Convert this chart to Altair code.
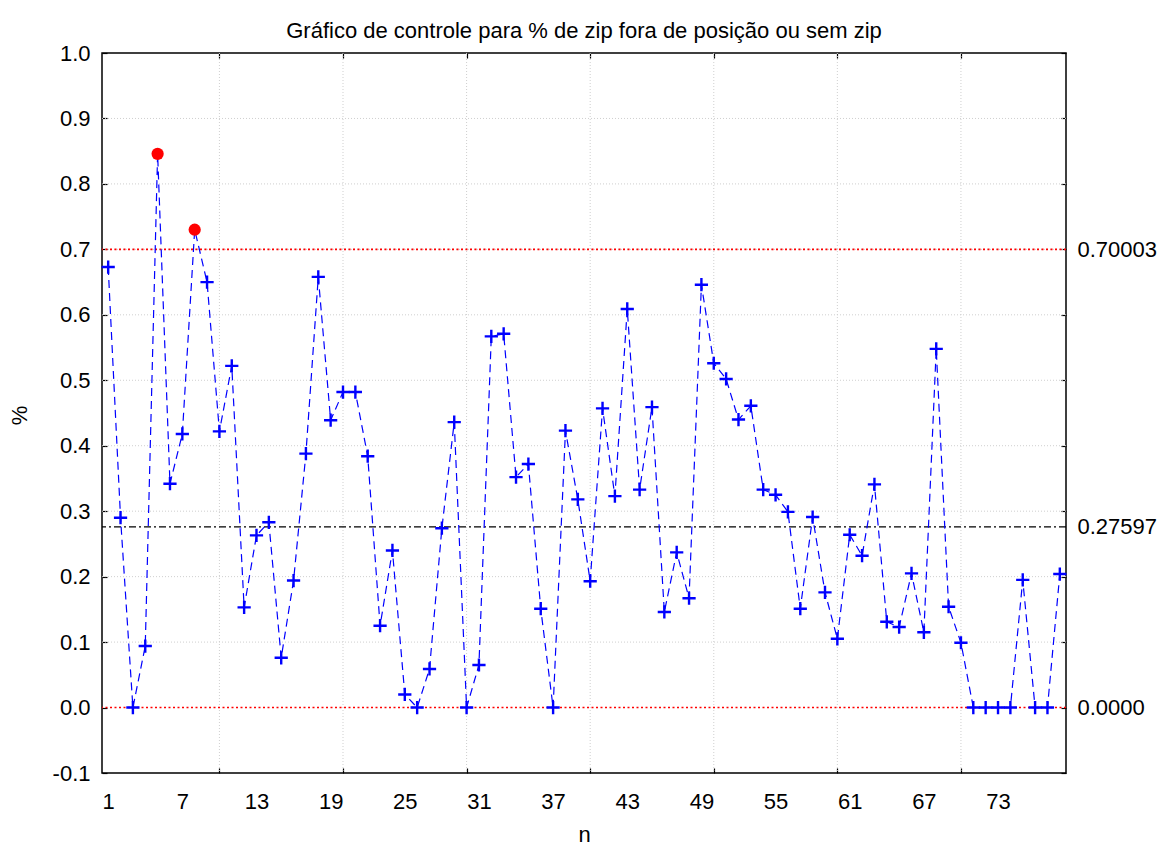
import altair as alt
import pandas as pd

TITLE = "Gráfico de controle para % de zip fora de posição ou sem zip"
X_TITLE = "n"
Y_TITLE = "%"

n_values = list(range(1, 79))
pct_values = [
    0.673, 0.290, 0.000, 0.094, 0.846, 0.342, 0.418, 0.730, 0.650, 0.422,
    0.522, 0.153, 0.263, 0.283, 0.076, 0.194, 0.388, 0.658, 0.439, 0.482,
    0.482, 0.384, 0.125, 0.240, 0.020, 0.000, 0.059, 0.274, 0.436, 0.000,
    0.065, 0.567, 0.571, 0.352, 0.372, 0.151, 0.000, 0.423, 0.318, 0.193,
    0.457, 0.323, 0.609, 0.333, 0.459, 0.146, 0.237, 0.167, 0.646, 0.526,
    0.502, 0.440, 0.461, 0.333, 0.325, 0.299, 0.151, 0.291, 0.176, 0.105,
    0.264, 0.232, 0.341, 0.131, 0.123, 0.205, 0.115, 0.548, 0.154, 0.099,
    0.000, 0.000, 0.000, 0.000, 0.195, 0.000, 0.000, 0.204,
]
x_label_values = [1, 7, 13, 19, 25, 31, 37, 43, 49, 55, 61, 67, 73]
x_grid_values = [10, 20, 30, 40, 50, 60, 70]
y_tick_values = [-0.1, 0.0, 0.1, 0.2, 0.3, 0.4, 0.5, 0.6, 0.7, 0.8, 0.9, 1.0]
y_grid_values = [0.1, 0.2, 0.3, 0.4, 0.5, 0.6, 0.7, 0.8, 0.9]
UCL = 0.70003
CL = 0.27597
LCL = 0.0
limit_values = [LCL, CL, UCL]

FONT = "Liberation Sans"
FS = 22
W, H = 964, 720

df = pd.DataFrame({"n": n_values, "pct": pct_values})
df["alarm"] = df["pct"] > UCL

xs = alt.Scale(domain=[0.5, 78.5], nice=False, zero=False)
ys = alt.Scale(domain=[-0.1, 1.0], nice=False, zero=False)


def tick_axis(orient, values):
    return alt.Axis(orient=orient, values=values, labels=False, ticks=True,
                    tickSize=5, tickWidth=1.2, tickColor="black", offset=-5,
                    domain=False, grid=False, title=None)


grid_color = "#cfcfcf"

vgrid = alt.Chart(pd.DataFrame({"g": x_grid_values})).mark_rule(
    color=grid_color, strokeDash=[1, 2], strokeWidth=1
).encode(x=alt.X("g:Q", scale=xs, axis=tick_axis("top", x_grid_values)))

vtick_bottom = alt.Chart(pd.DataFrame({"g": x_grid_values})).mark_rule(
    opacity=0
).encode(x=alt.X("g:Q", scale=xs, axis=tick_axis("bottom", x_grid_values)))

hgrid = alt.Chart(pd.DataFrame({"g": y_grid_values})).mark_rule(
    color=grid_color, strokeDash=[1, 2], strokeWidth=1
).encode(y=alt.Y("g:Q", scale=ys, axis=tick_axis("right", y_tick_values)))

red_lines = alt.Chart(pd.DataFrame({"v": [UCL, LCL]})).mark_rule(
    color="#ff0000", strokeDash=[2, 2.5], strokeWidth=1.6
).encode(y=alt.Y("v:Q", scale=ys, axis=None))

cl_line = alt.Chart(pd.DataFrame({"v": [CL]})).mark_rule(
    color="black", strokeDash=[7, 3, 2, 3], strokeWidth=1.2
).encode(y=alt.Y("v:Q", scale=ys, axis=alt.Axis(
    orient="right", values=limit_values, ticks=False, tickSize=0, domain=False,
    grid=False, labelPadding=11, title=None,
    labelExpr="datum.value == 0 ? '0.0000' : format(datum.value, '.5f')")))

line = alt.Chart(df).mark_line(
    color="#0000ff", strokeDash=[8, 5], strokeWidth=1.2
).encode(
    x=alt.X("n:Q", scale=xs, axis=alt.Axis(
        orient="bottom", values=x_label_values, ticks=False, tickSize=0,
        domain=False, grid=False, labelPadding=18, labelFlush=False,
        labelOverlap=False, title=X_TITLE, titleY=68,
        titleBaseline="alphabetic")),
    y=alt.Y("pct:Q", scale=ys, axis=alt.Axis(
        orient="left", values=y_tick_values, ticks=True, tickSize=5,
        tickWidth=1.2, tickColor="black", offset=-5, domain=False, grid=False,
        labelPadding=12, labelOverlap=False,
        labelExpr="datum.value < 0 ? '-' + format(-datum.value, '.1f') : format(abs(datum.value), '.1f')",
        title=Y_TITLE, titleX=-81, titleY=362, titleBaseline="alphabetic")),
)

cross = alt.Chart(df).transform_filter("!datum.alarm").mark_point(
    shape="M-1,0L1,0M0,-1L0,1", filled=False, color="#0000ff",
    strokeWidth=2.4, size=175, opacity=1
).encode(x=alt.X("n:Q", scale=xs, axis=None),
         y=alt.Y("pct:Q", scale=ys, axis=None))

circles = alt.Chart(df).transform_filter("datum.alarm").mark_circle(
    color="#ff0000", size=150, opacity=1
).encode(x=alt.X("n:Q", scale=xs, axis=None),
         y=alt.Y("pct:Q", scale=ys, axis=None))

chart = alt.layer(
    vgrid, vtick_bottom, hgrid, red_lines, cl_line, line, cross, circles
).resolve_scale(x="shared", y="shared").resolve_axis(
    x="independent", y="independent"
).properties(
    width=W, height=H,
    title=alt.TitleParams(TITLE, font=FONT, fontSize=FS, fontWeight="normal",
                          color="black", anchor="middle", offset=5, dy=23,
                          baseline="alphabetic"),
    padding={"left": 94, "top": 45, "right": 92, "bottom": 72},
    autosize=alt.AutoSizeParams(type="none"),
).configure_view(
    stroke="black", strokeWidth=1.5
).configure_axis(
    labelFont=FONT, labelFontSize=FS, labelColor="black",
    titleFont=FONT, titleFontSize=FS, titleColor="black", titleFontWeight="normal"
)

chart.save("out.html", embed_options={"renderer": "svg", "actions": False})
